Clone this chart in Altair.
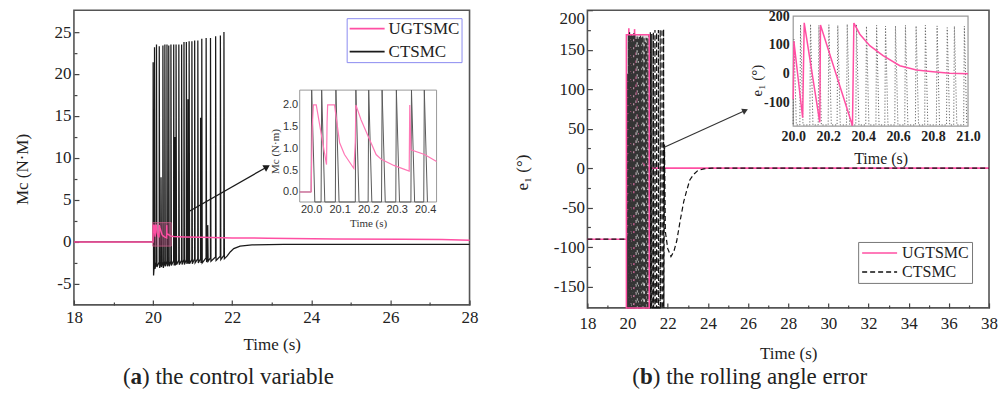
import altair as alt
import pandas as pd

SERIF = "Liberation Serif"
SANS = "Liberation Sans"
PINK = "#ff4fa3"
INK = "#1a1a1a"
TXT = "#222222"

# ================= (a) the control variable =================
a_x_domain = [18, 28]
a_y_domain = [-7.5, 27.6]
a_x_major = [18, 20, 22, 24, 26, 28]
a_x_minor = [19, 21, 23, 25, 27]
a_y_major = [-5, 0, 5, 10, 15, 20, 25]
a_y_minor = [-2.5, 2.5, 7.5, 12.5, 17.5, 22.5]

ug_a_t = [18.0, 19.96, 20.0, 20.004, 20.008, 20.018, 20.054, 20.056, 20.058, 20.082,
          20.100, 20.117, 20.150, 20.155, 20.157, 20.175, 20.200, 20.228, 20.246, 20.290,
          20.344, 20.346, 20.350, 20.398, 20.440, 20.52, 20.8, 21.2, 22.0, 22.9,
          24.6, 26.3, 27.3, 28.0]
ug_a_v = [0.0, 0.0, 0.0, 1.5, 2.0, 2.0, 0.63, 1.6, 2.0, 2.0,
          1.13, 0.86, 0.54, 1.15, 2.0, 1.66, 1.28, 0.86, 0.75, 0.61,
          0.48, 2.0, 0.97, 0.86, 0.70, 0.66, 0.60, 0.55, 0.48, 0.44,
          0.36, 0.32, 0.28, 0.20]

ct_a_head_t = [18.0, 19.96]
ct_a_head_v = [0.0, 0.0]
ct_a_spike_t = [20.000, 20.035, 20.085, 20.155, 20.200, 20.247, 20.297, 20.350, 20.395, 20.450,
                20.520, 20.550, 20.580, 20.650, 20.720, 20.780, 20.840, 20.880, 20.910, 20.980,
                21.050, 21.130, 21.200, 21.230, 21.340, 21.380, 21.450, 21.580, 21.700, 21.790]
ct_a_spike_pre = [0.0, -2.5, -2.4, -2.4, -2.4, -2.4, -2.3, -2.3, -2.3, -2.3,
                  -2.2, -2.3, -2.2, -2.2, -2.2, -2.1, -2.1, -2.2, -2.1, -2.1,
                  -2.0, -2.0, -2.0, -2.0, -1.9, -2.0, -1.9, -1.8, -1.7, -1.6]
ct_a_spike_top = [21.4, 23.2, 23.5, 23.3, 7.7, 23.4, 23.5, 23.5, 23.4, 23.5,
                  23.5, 12.5, 23.5, 23.5, 23.5, 23.8, 23.8, 17.0, 23.9, 23.9,
                  24.0, 24.0, 14.8, 24.2, 24.3, 2.0, 24.3, 24.5, 24.6, 25.0]
ct_a_spike_low = [-4.0, -3.2, -3.0, -3.1, -3.0, -3.1, -2.9, -2.9, -2.9, -2.8,
                  -2.8, -2.8, -2.7, -2.7, -2.7, -2.7, -2.6, -2.6, -2.6, -2.6,
                  -2.5, -2.5, -2.5, -2.5, -2.4, -2.3, -2.3, -2.2, -2.1, -2.0]
ct_a_tail_t = [21.87, 21.95, 22.04, 22.20, 22.50, 23.30, 28.0]
ct_a_tail_v = [-1.7, -1.2, -0.8, -0.5, -0.36, -0.28, -0.28]

zoom_a_t = [19.99, 20.46]
zoom_a_v = [-0.5, 2.3]
arrow_a_t = [20.84, 22.88]
arrow_a_v = [3.45, 8.93]
ins_a_t = [19.96, 20.44]
ins_a_v = [-0.23, 2.34]
ins_a_xticks = [20.0, 20.1, 20.2, 20.3, 20.4]
ins_a_yticks = [0.0, 0.5, 1.0, 1.5, 2.0]

# ================= (b) the rolling angle error =================
b_x_domain = [18, 38]
b_y_domain = [-177, 200]
b_x_major = [18, 20, 22, 24, 26, 28, 30, 32, 34, 36, 38]
b_x_minor = [19, 21, 23, 25, 27, 29, 31, 33, 35, 37]
b_y_major = [-150, -100, -50, 0, 50, 100, 150, 200]
b_y_minor = [-125, -75, -25, 25, 75, 125, 175]

ug_b_t = [18.0, 20.0, 20.004, 20.054, 20.063, 20.152, 20.156, 20.339, 20.347, 20.381,
          20.438, 20.514, 20.61, 20.705, 20.8, 20.895, 21.0, 21.1, 38.0]
ug_b_v = [-90, -90, 112, -155, 177, -171, 169, -183, 176, 137,
          97, 62, 27, 12, 6, 1, -1, 0, 0]

ct_b_head_t = [18.0, 20.0]
ct_b_head_v = [-90, -90]
ct_b_cycle_t = [20.000, 20.038, 20.095, 20.143, 20.200, 20.251, 20.305, 20.358, 20.415, 20.473,
                20.524, 20.581, 20.638, 20.699, 20.752, 20.819, 20.877, 20.918, 20.975, 21.060,
                21.130, 21.200, 21.280, 21.360, 21.440, 21.530, 21.620, 21.710, 21.790]
ct_b_cycle_top = [120, 170, 172, 168, 170, 168, 172, 170, 165, 168,
                  165, 166, 168, 166, 168, 166, 160, 165, 165, 170,
                  172, 170, 172, 175, 172, 175, 175, 176, 176]
ct_b_wrap_low = -180
ct_b_tail_t = [21.84, 21.88, 22.00, 22.16, 22.30, 22.45, 22.63, 22.80, 22.96, 23.10,
               23.29, 23.50, 23.80, 24.20, 38.0]
ct_b_tail_v = [30, -80, -102, -112, -106, -92, -65, -42, -27, -15,
               -8, -3, -1, 0, 0]

zoom_b_t = [19.94, 21.08]
zoom_b_v = [-177, 169]
arrow_b_t = [21.8, 25.86]
arrow_b_v = [26, 73]
ins_b_t = [20.0, 21.0]
ins_b_v = [-184, 200]
ins_b_xticks = [20.0, 20.2, 20.4, 20.6, 20.8, 21.0]
ins_b_yticks = [-100, 0, 100, 200]

series_names = ["UGTSMC", "CTSMC"]


# ---------------- helpers ----------------
def frame(ts, vs, name):
    return pd.DataFrame({"t": ts, "v": vs, "series": name, "i": list(range(len(ts)))})


def spikes_a():
    ts, vs = list(ct_a_head_t), list(ct_a_head_v)
    for t, p, h, l in zip(ct_a_spike_t, ct_a_spike_pre, ct_a_spike_top, ct_a_spike_low):
        ts += [t, t + 0.002, t + 0.013]
        vs += [p, h, l]
    ts += ct_a_tail_t
    vs += ct_a_tail_v
    return frame(ts, vs, "CTSMC")


def cycles_b():
    ts, vs = list(ct_b_head_t), list(ct_b_head_v)
    for t, h in zip(ct_b_cycle_t, ct_b_cycle_top):
        ts += [t, t + 0.004, t + 0.018]
        vs += [ct_b_wrap_low, h, ct_b_wrap_low]
    ts += ct_b_tail_t
    vs += ct_b_tail_v
    return frame(ts, vs, "CTSMC")


def sc(dom, rng=None, clamp=False):
    kw = dict(domain=dom, nice=False, zero=False)
    if rng is not None:
        kw["range"] = rng
    if clamp:
        kw["clamp"] = True
    return alt.Scale(**kw)


def main_x_axis(values, label_pad, title_pad):
    return alt.Axis(orient="bottom", values=values, format="d", ticks=False, tickSize=0,
                    domain=False, grid=False, labelFlush=False, labelPadding=label_pad,
                    labelFont=SERIF, labelFontSize=17, labelColor=TXT,
                    title="Time (s)", titleFont=SERIF, titleFontSize=17,
                    titleFontWeight="normal", titleColor=TXT, titlePadding=title_pad)


def main_y_axis(values, title, tx, ty, flush=False):
    return alt.Axis(orient="left", values=values, labelExpr="'' + datum.value", ticks=False,
                    tickSize=0, domain=False, grid=False, labelPadding=3, labelFlush=flush,
                    labelFont=SERIF, labelFontSize=17, labelColor=TXT,
                    title=title, titleFont=SERIF, titleFontSize=17, titleFontWeight="normal",
                    titleColor=TXT, titleX=tx, titleY=ty, titleAngle=-90,
                    titleAlign="center", titleBaseline="middle")


def tick_x_axis(values, H, size):
    return alt.Axis(orient="top", offset=-H, values=values, labels=False, domain=False,
                    grid=False, ticks=True, tickSize=size, tickColor="#444", tickWidth=1.2,
                    title=None)


def tick_y_axis(values, W, size):
    return alt.Axis(orient="right", offset=-W, values=values, labels=False, domain=False,
                    grid=False, ticks=True, tickSize=size, tickColor="#444", tickWidth=1.2,
                    title=None)


one = pd.DataFrame({"k": [0]})
CAP_SIZE = 23


def caption(x0, y, letter, rest, w_paren, w_letter):
    c1 = alt.Chart(one).mark_text(text="(", font=SERIF, fontSize=CAP_SIZE, align="left",
                                  baseline="middle", color=TXT).encode(
        x=alt.value(x0), y=alt.value(y))
    c2 = alt.Chart(one).mark_text(text=letter, font=SERIF, fontSize=CAP_SIZE, fontWeight="bold",
                                  align="left", baseline="middle", color=TXT).encode(
        x=alt.value(x0 + w_paren), y=alt.value(y))
    c3 = alt.Chart(one).mark_text(text=rest, font=SERIF, fontSize=CAP_SIZE, align="left",
                                  baseline="middle", color=TXT).encode(
        x=alt.value(x0 + w_paren + w_letter), y=alt.value(y))
    return [c1, c2, c3]


# ================= panel (a) =================
W_A, H_A = 396, 295
A_INS_X = [226, 363]
A_INS_Y = [192, 80]

df_ct_a = spikes_a()
df_ug_a = frame(ug_a_t, ug_a_v, "UGTSMC")
df_zoom_a = pd.DataFrame({"t0": [zoom_a_t[0]], "t1": [zoom_a_t[1]],
                          "v0": [zoom_a_v[0]], "v1": [zoom_a_v[1]]})
df_arrow_a = pd.DataFrame({"t": arrow_a_t, "v": arrow_a_v, "i": [0, 1]})
df_head_a = df_arrow_a.iloc[[1]]
df_ins_a = pd.DataFrame({"t0": [ins_a_t[0]], "t1": [ins_a_t[1]],
                         "v0": [ins_a_v[0]], "v1": [ins_a_v[1]]})

leg_a = alt.Legend(orient="none", legendX=273, legendY=8, title=None, direction="vertical",
                   symbolType="stroke", symbolSize=1225, symbolStrokeWidth=1.6,
                   labelFont=SERIF, labelFontSize=17, labelColor=TXT, labelOffset=3,
                   strokeColor="#8c8cf0", fillColor="white", padding=2, rowPadding=5,
                   clipHeight=17)
col_a = alt.Color("series:N", scale=alt.Scale(domain=series_names, range=[PINK, INK]),
                  legend=leg_a)

a_black = alt.Chart(df_ct_a).mark_line(strokeWidth=1.25).encode(
    x=alt.X("t:Q", scale=sc(a_x_domain), axis=main_x_axis(a_x_major, 5, 11)),
    y=alt.Y("v:Q", scale=sc(a_y_domain, clamp=True),
            axis=main_y_axis(a_y_major, "Mc (N·M)", -51, 159)),
    color=col_a, order=alt.Order("i:Q"))

a_pink = alt.Chart(df_ug_a).mark_line(strokeWidth=1.5).encode(
    x=alt.X("t:Q", scale=sc(a_x_domain), axis=tick_x_axis(a_x_major, H_A, 5)),
    y=alt.Y("v:Q", scale=sc(a_y_domain, clamp=True), axis=tick_y_axis(a_y_major, W_A, 5)),
    color=col_a, order=alt.Order("i:Q"))

a_zoom = alt.Chart(df_zoom_a).mark_rect(fill=PINK, fillOpacity=0.25, stroke="#d9608f",
                                        strokeOpacity=0.7, strokeWidth=1).encode(
    x=alt.X("t0:Q", scale=sc(a_x_domain), axis=tick_x_axis(a_x_minor, H_A, 3)), x2="t1:Q",
    y=alt.Y("v0:Q", scale=sc(a_y_domain), axis=tick_y_axis(a_y_minor, W_A, 3)), y2="v1:Q")

a_arrow = alt.Chart(df_arrow_a).mark_line(color=INK, strokeWidth=1.3).encode(
    x=alt.X("t:Q", scale=sc(a_x_domain), axis=None),
    y=alt.Y("v:Q", scale=sc(a_y_domain), axis=None), order=alt.Order("i:Q"))

a_head = alt.Chart(df_head_a).mark_point(shape="triangle-up", filled=True, size=55, angle=60,
                                         color=INK, opacity=1).encode(
    x=alt.X("t:Q", scale=sc(a_x_domain), axis=None),
    y=alt.Y("v:Q", scale=sc(a_y_domain), axis=None))

a_ins_frame = alt.Chart(df_ins_a).mark_rect(fill="white", stroke="#999999", strokeWidth=1).encode(
    x=alt.X("t0:Q", scale=sc(ins_a_t, A_INS_X), axis=None), x2="t1:Q",
    y=alt.Y("v0:Q", scale=sc(ins_a_v, A_INS_Y), axis=None), y2="v1:Q")

a_ins_black = alt.Chart(df_ct_a).transform_filter(
    alt.FieldRangePredicate(field="t", range=ins_a_t)).mark_line(
    color="#5a5a5a", strokeWidth=1.0).encode(
    x=alt.X("t:Q", scale=sc(ins_a_t, A_INS_X),
            axis=alt.Axis(orient="bottom", offset=-(H_A - A_INS_Y[0]), values=ins_a_xticks,
                          format=".1f", ticks=False, tickSize=0, domain=False, grid=False,
                          labelFlush=False, labelPadding=2, labelFont=SANS, labelFontSize=11,
                          labelColor="#333", title="Time (s)", titleFont=SERIF,
                          titleFontSize=11, titleFontWeight="normal", titleColor="#333",
                          titlePadding=3)),
    y=alt.Y("v:Q", scale=sc(ins_a_v, A_INS_Y, clamp=True),
            axis=alt.Axis(orient="left", offset=-A_INS_X[0], values=ins_a_yticks,
                          format=".1f", ticks=False, tickSize=0, domain=False, grid=False,
                          labelPadding=2, labelFont=SANS, labelFontSize=11, labelColor="#333",
                          title="Mc (N·m)", titleFont=SERIF, titleFontSize=11,
                          titleFontWeight="normal", titleColor="#333", titleX=-24,
                          titleY=141, titleAngle=-90, titleAlign="center",
                          titleBaseline="middle")),
    order=alt.Order("i:Q"))

a_ins_pink = alt.Chart(df_ug_a).transform_filter(
    alt.FieldRangePredicate(field="t", range=ins_a_t)).mark_line(
    color="#ff78b6", strokeWidth=1.2).encode(
    x=alt.X("t:Q", scale=sc(ins_a_t, A_INS_X), axis=None),
    y=alt.Y("v:Q", scale=sc(ins_a_v, A_INS_Y, clamp=True), axis=None),
    order=alt.Order("i:Q"))

cap_a = caption(49, 367, "a", ") the control variable", 7.7, 11.5)

panel_a = alt.layer(a_black, a_pink, a_zoom, a_arrow, a_head, a_ins_frame, a_ins_black,
                    a_ins_pink, *cap_a).resolve_scale(
    x="independent", y="independent").properties(width=W_A, height=H_A)

# ================= panel (b) =================
W_B, H_B = 402, 298
B_INS_X = [206, 381]
B_INS_Y = [116, 6]

df_ct_b = cycles_b()
df_ug_b = frame(ug_b_t, ug_b_v, "UGTSMC")
df_zoom_b = pd.DataFrame({"t0": [zoom_b_t[0]], "t1": [zoom_b_t[1]],
                          "v0": [zoom_b_v[0]], "v1": [zoom_b_v[1]]})
df_arrow_b = pd.DataFrame({"t": arrow_b_t, "v": arrow_b_v, "i": [0, 1]})
df_head_b = df_arrow_b.iloc[[1]]
df_ins_b = pd.DataFrame({"t0": [ins_b_t[0]], "t1": [ins_b_t[1]],
                         "v0": [ins_b_v[0]], "v1": [ins_b_v[1]]})

leg_b = alt.Legend(orient="none", legendX=271, legendY=232, title=None, direction="vertical",
                   symbolType="stroke", symbolSize=1225, symbolStrokeWidth=1.6,
                   labelFont=SERIF, labelFontSize=16, labelColor=TXT, labelOffset=4,
                   strokeColor="#777777", fillColor="white", padding=3, rowPadding=3,
                   clipHeight=16)
col_b = alt.Color("series:N", scale=alt.Scale(domain=series_names, range=[PINK, "#111111"]),
                  legend=leg_b)
dash_b = alt.StrokeDash("series:N", scale=alt.Scale(domain=series_names, range=[[1, 0], [5, 3]]),
                        legend=leg_b)

b_pink = alt.Chart(df_ug_b).mark_line(strokeWidth=1.6).encode(
    x=alt.X("t:Q", scale=sc(b_x_domain), axis=main_x_axis(b_x_major, 8, 14)),
    y=alt.Y("v:Q", scale=sc(b_y_domain, clamp=True),
            axis=main_y_axis(b_y_major, "e₁ (°)", -65, 162, flush=True)),
    color=col_b, strokeDash=dash_b, order=alt.Order("i:Q"))

b_black = alt.Chart(df_ct_b).mark_line(strokeWidth=1.2).encode(
    x=alt.X("t:Q", scale=sc(b_x_domain), axis=tick_x_axis(b_x_major, H_B, 5)),
    y=alt.Y("v:Q", scale=sc(b_y_domain, clamp=True), axis=tick_y_axis(b_y_major, W_B, 5)),
    color=col_b, strokeDash=dash_b, order=alt.Order("i:Q"))

b_zoom = alt.Chart(df_zoom_b).mark_rect(fill="#888888", fillOpacity=0.3, stroke=PINK,
                                        strokeWidth=1.5).encode(
    x=alt.X("t0:Q", scale=sc(b_x_domain), axis=tick_x_axis(b_x_minor, H_B, 3)), x2="t1:Q",
    y=alt.Y("v0:Q", scale=sc(b_y_domain), axis=tick_y_axis(b_y_minor, W_B, 3)), y2="v1:Q")

b_arrow = alt.Chart(df_arrow_b).mark_line(color="#333333", strokeWidth=1.1).encode(
    x=alt.X("t:Q", scale=sc(b_x_domain), axis=None),
    y=alt.Y("v:Q", scale=sc(b_y_domain), axis=None), order=alt.Order("i:Q"))

b_head = alt.Chart(df_head_b).mark_point(shape="triangle-up", filled=True, size=45, angle=65,
                                         color="#333333", opacity=1).encode(
    x=alt.X("t:Q", scale=sc(b_x_domain), axis=None),
    y=alt.Y("v:Q", scale=sc(b_y_domain), axis=None))

b_ins_frame = alt.Chart(df_ins_b).mark_rect(fill="white", stroke="#999999", strokeWidth=1.2).encode(
    x=alt.X("t0:Q", scale=sc(ins_b_t, B_INS_X), axis=None), x2="t1:Q",
    y=alt.Y("v0:Q", scale=sc(ins_b_v, B_INS_Y), axis=None), y2="v1:Q")

b_ins_black = alt.Chart(df_ct_b).transform_filter(
    alt.FieldRangePredicate(field="t", range=ins_b_t)).mark_line(
    color="#6a6a6a", strokeWidth=1.0, strokeDash=[1.2, 1.8]).encode(
    x=alt.X("t:Q", scale=sc(ins_b_t, B_INS_X),
            axis=alt.Axis(orient="bottom", offset=-(H_B - B_INS_Y[0]), values=ins_b_xticks,
                          format=".1f", ticks=False, tickSize=0, domain=False, grid=False,
                          labelFlush=False, labelPadding=3, labelFont=SERIF, labelFontSize=14,
                          labelFontWeight="bold", labelColor=TXT, title="Time (s)",
                          titleFont=SERIF, titleFontSize=16, titleFontWeight="normal",
                          titleColor=TXT, titlePadding=7)),
    y=alt.Y("v:Q", scale=sc(ins_b_v, B_INS_Y, clamp=True),
            axis=alt.Axis(orient="left", offset=-B_INS_X[0], values=ins_b_yticks,
                          labelExpr="'' + datum.value", ticks=False, tickSize=0,
                          domain=False, grid=False, labelPadding=4, labelFont=SERIF,
                          labelFontSize=14, labelFontWeight="bold", labelColor=TXT,
                          title="e₁ (°)", titleFont=SERIF, titleFontSize=15,
                          titleFontWeight="normal", titleColor=TXT, titleX=-37, titleY=70,
                          titleAngle=-90, titleAlign="center", titleBaseline="middle")),
    order=alt.Order("i:Q"))

b_ins_pink = alt.Chart(df_ug_b).transform_filter(
    alt.FieldRangePredicate(field="t", range=ins_b_t)).mark_line(
    color=PINK, strokeWidth=1.5).encode(
    x=alt.X("t:Q", scale=sc(ins_b_t, B_INS_X), axis=None),
    y=alt.Y("v:Q", scale=sc(ins_b_v, B_INS_Y, clamp=True), axis=None),
    order=alt.Order("i:Q"))

cap_b = caption(45, 367, "b", ") the rolling angle error", 7.7, 12.8)

panel_b = alt.layer(b_pink, b_black, b_zoom, b_arrow, b_head, b_ins_frame, b_ins_black,
                    b_ins_pink, *cap_b).resolve_scale(
    x="independent", y="independent").properties(width=W_B, height=H_B)

chart = alt.hconcat(panel_a, panel_b, spacing=118, bounds="flush").resolve_scale(
    color="independent", strokeDash="independent").resolve_legend(
    color="independent", strokeDash="independent").properties(
    padding={"left": 5, "top": 0, "right": 0, "bottom": 0}).configure_axis(
    labelFont=SERIF, titleFont=SERIF).configure_view(
    stroke="#555555", strokeWidth=1.6)

chart.save("out.html", embed_options={"renderer": "svg", "actions": False})
